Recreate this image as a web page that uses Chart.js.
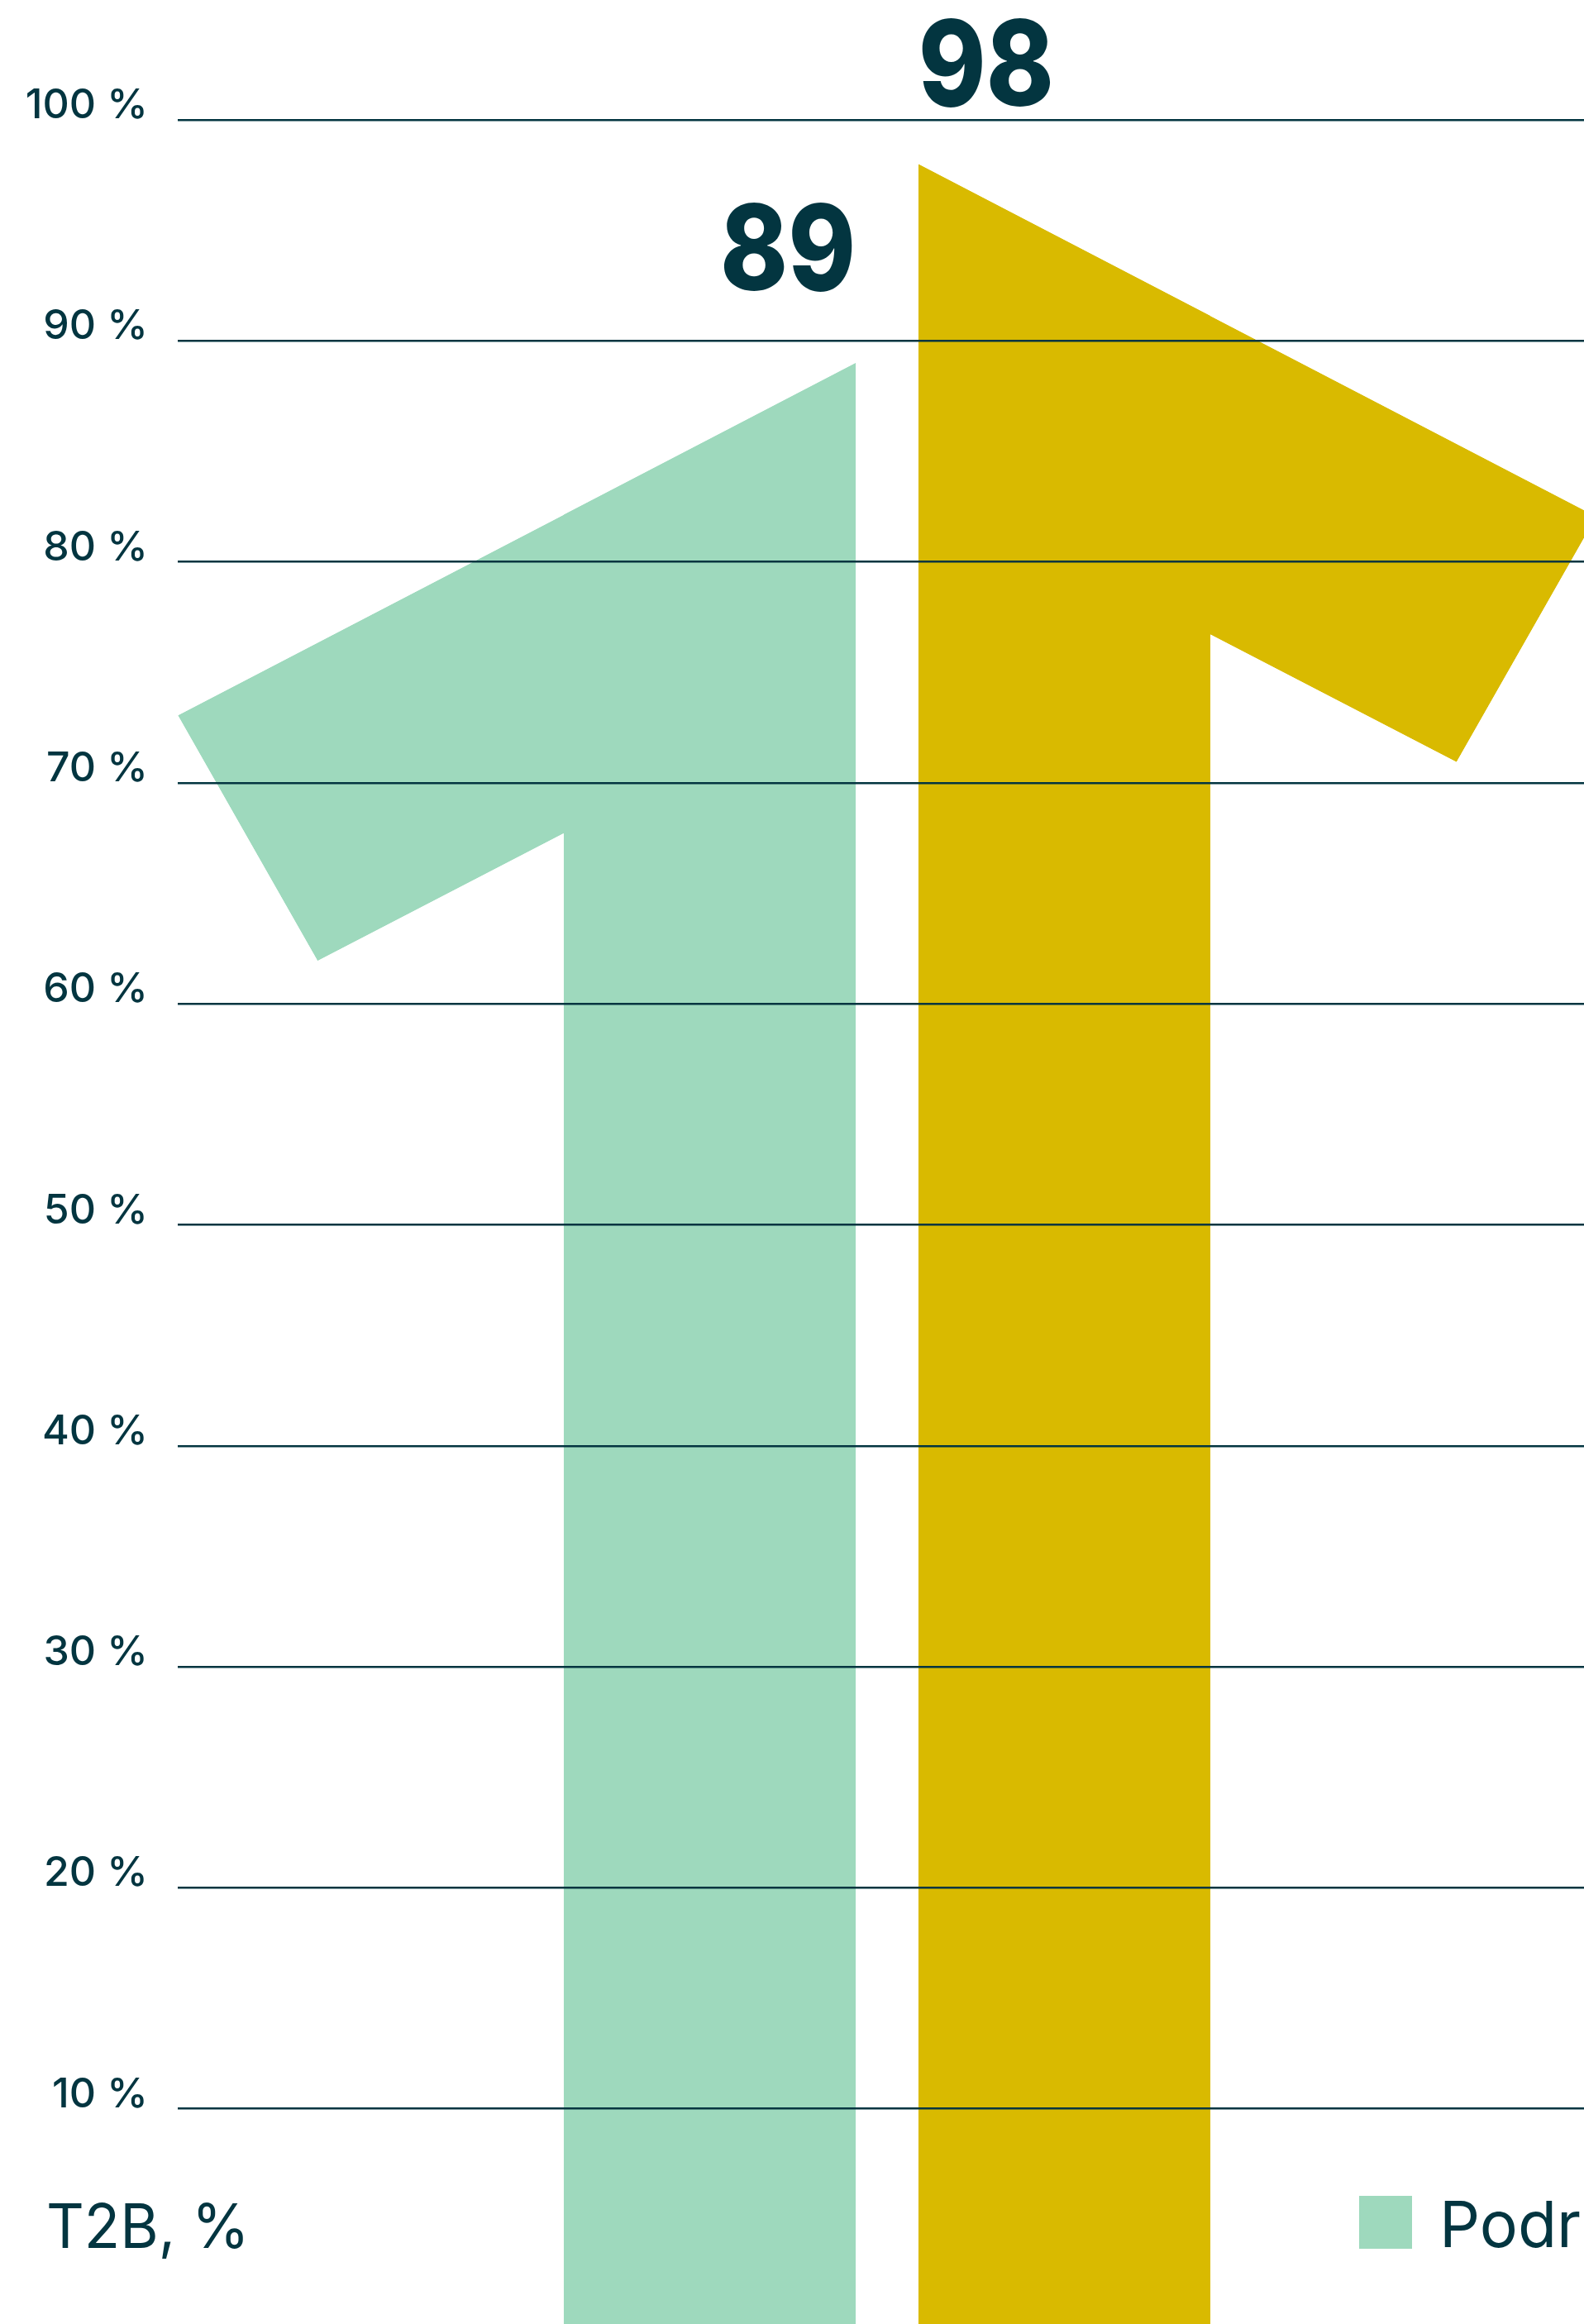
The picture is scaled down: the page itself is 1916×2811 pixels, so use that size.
<!DOCTYPE html>
<html>
<head>
<meta charset="utf-8">
<script src="https://cdn.jsdelivr.net/npm/chart.js@4/dist/chart.umd.min.js"></script>
<style>
  html, body { margin: 0; padding: 0; overflow: hidden; background: #ffffff; width: 1916px; height: 2811px; }
  canvas { display: block; }
</style>
</head>
<body>
<canvas id="chart" width="1940" height="2930"></canvas>
<script>
// ---- data ----
const categories = ['T2B'];
const seriesNames = ['Podruhé', 'Potřetí'];
const firstSeries = [89];
const secondSeries = [98];
const yTickValues = [10, 20, 30, 40, 50, 60, 70, 80, 90, 100];
const yTickLabels = ['10 %', '20 %', '30 %', '40 %', '50 %', '60 %', '70 %', '80 %', '90 %', '100 %'];
const unitNote = 'T2B, %';

// ---- style ----
const INK = '#033540';
const GREEN = '#9ed9bd';
const YELLOW = '#d9ba00';
const FONT = 'Inter, "Open Sans", sans-serif';

// Flag of the "1"-shaped bar, in multiples of the bar width.
const FLAG = { tipDX: 2.321, tipDY: 1.2066, lowDX: 1.8426, lowDY: 2.047, innerDY: 1.6105 };

function addArrowPath(ctx, bar, side) {
  const w = bar.width;
  const L = bar.x - w / 2, R = bar.x + w / 2, T = bar.y, B = bar.base;
  const s = side === 'left' ? -1 : 1;
  const straight = side === 'left' ? R : L;
  const inner = side === 'left' ? L : R;
  ctx.moveTo(straight, T);
  ctx.lineTo(straight + s * FLAG.tipDX * w, T + FLAG.tipDY * w);
  ctx.lineTo(straight + s * FLAG.lowDX * w, T + FLAG.lowDY * w);
  ctx.lineTo(inner, T + FLAG.innerDY * w);
  ctx.lineTo(inner, B);
  ctx.lineTo(straight, B);
  ctx.closePath();
}

// Turns each bar into an upward "1" with a slanted flag.
const arrowBars = {
  id: 'arrowBars',
  beforeDatasetDraw(chart, args) {
    const ctx = chart.ctx;
    const ds = chart.data.datasets[args.index];
    ctx.save();
    ctx.beginPath();
    args.meta.data.forEach(bar => addArrowPath(ctx, bar, ds.flagSide));
    ctx.clip();
  },
  afterDatasetDraw(chart, args) {
    const ctx = chart.ctx;
    const ds = chart.data.datasets[args.index];
    ctx.beginPath();
    args.meta.data.forEach(bar => addArrowPath(ctx, bar, ds.flagSide));
    ctx.fillStyle = ds.backgroundColor;
    ctx.fill();
    ctx.restore();
  }
};

// Big value labels above the bars, aligned with the straight side.
const valueLabels = {
  id: 'valueLabels',
  afterDatasetsDraw(chart) {
    const ctx = chart.ctx;
    const squeeze = 0.86;
    chart.data.datasets.forEach((ds, di) => {
      const meta = chart.getDatasetMeta(di);
      meta.data.forEach((bar, i) => {
        ctx.save();
        ctx.font = '800 144px ' + FONT;
        ctx.fillStyle = INK;
        ctx.textBaseline = 'alphabetic';
        const text = String(ds.data[i]);
        const m = ctx.measureText(text);
        const w = bar.width;
        const x = ds.flagSide === 'left' ? bar.x + w / 2 : bar.x - w / 2;
        ctx.textAlign = ds.flagSide === 'left' ? 'right' : 'left';
        const y = Math.max(bar.y - 88, 21 + m.actualBoundingBoxAscent);
        ctx.translate(x, y);
        ctx.scale(squeeze, 1);
        ctx.fillText(text, 0, 0);
        ctx.restore();
      });
    });
  }
};

// Unit note at bottom left and legend at bottom right.
const footer = {
  id: 'footer',
  afterDraw(chart) {
    const ctx = chart.ctx;
    ctx.save();
    ctx.fillStyle = INK;
    ctx.textAlign = 'left';
    ctx.textBaseline = 'alphabetic';
    ctx.font = '400 74px ' + FONT;
    ctx.save();
    ctx.translate(56, 2719);
    ctx.scale(0.96, 1);
    ctx.fillText(unitNote, 0, 0);
    ctx.restore();
    ctx.font = '400 77px ' + FONT;
    let x = 1644;
    chart.data.datasets.forEach(ds => {
      ctx.fillStyle = ds.backgroundColor;
      ctx.fillRect(x, 2656, 64, 64);
      ctx.fillStyle = INK;
      ctx.fillText(ds.label, x + 97, 2718);
      x += 97 + ctx.measureText(ds.label).width + 90;
    });
    ctx.restore();
  }
};

new Chart(document.getElementById('chart'), {
  type: 'bar',
  data: {
    labels: categories,
    datasets: [
      { label: seriesNames[0], data: firstSeries, backgroundColor: GREEN, flagSide: 'left',
        categoryPercentage: 0.5, barPercentage: 0.8235, borderWidth: 0 },
      { label: seriesNames[1], data: secondSeries, backgroundColor: YELLOW, flagSide: 'right',
        categoryPercentage: 0.5, barPercentage: 0.8235, borderWidth: 0 }
    ]
  },
  options: {
    responsive: false,
    animation: false,
    devicePixelRatio: 1,
    layout: { padding: { left: 0, right: 9, top: 145, bottom: 112 } },
    plugins: { legend: { display: false }, tooltip: { enabled: false }, title: { display: false } },
    scales: {
      x: { display: false },
      y: {
        min: 0, max: 100,
        border: { display: false },
        grid: { color: INK, lineWidth: 2.6, drawTicks: false, z: 1 },
        ticks: {
          stepSize: 10,
          padding: 36,
          labelOffset: -17,
          color: INK,
          font: { family: FONT, size: 50, weight: 500 },
          callback: (v) => { const i = yTickValues.indexOf(v); return i >= 0 ? yTickLabels[i] : ''; }
        },
        afterFit: (scale) => { scale.width = 215; }
      }
    }
  },
  plugins: [arrowBars, valueLabels, footer]
});
</script>
</body>
</html>
